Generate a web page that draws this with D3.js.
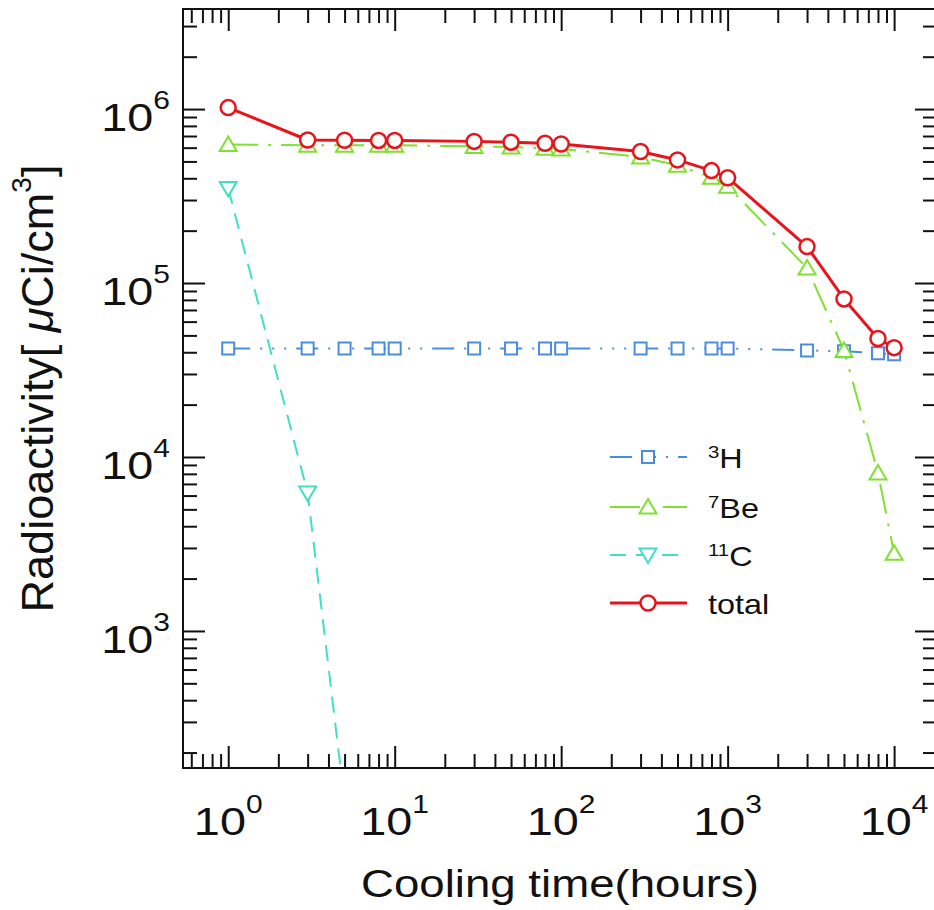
<!DOCTYPE html>
<html><head><meta charset="utf-8">
<script src="https://cdn.jsdelivr.net/npm/d3@7"></script>
<style>
body{margin:0;background:#fff}
svg{display:block}
text{font-family:"Liberation Sans",Arial,Helvetica,sans-serif;fill:#111}
</style>
</head><body>
<svg id="chart" width="934" height="910"></svg>
<script>
// ---- data ----
const hours = [1,3,5,8,10,30,50,80,100,300,500,800,1000,3000,5000,8000,10000];
const h3Values = [4.2e4,4.2e4,4.2e4,4.2e4,4.2e4,4.2e4,4.2e4,4.2e4,4.2e4,4.2e4,4.2e4,4.2e4,4.2e4,4.1e4,4.05e4,3.95e4,3.9e4];
const be7Values = [6.25e5,6.2e5,6.2e5,6.2e5,6.2e5,6.1e5,6.05e5,5.95e5,5.9e5,5.3e5,4.75e5,4.05e5,3.6e5,1.22e5,4.1e4,8.1e3,2.8e3];
const c11Hours = [1,3,5,8,10];
const c11Values = [3.5e5,6.2e3,1.05e2,0.24,0.004];
const totalValues = [1.02e6,6.64e5,6.62e5,6.6e5,6.6e5,6.52e5,6.45e5,6.36e5,6.3e5,5.7e5,5.1e5,4.43e5,4.03e5,1.62e5,8.1e4,4.8e4,4.25e4];

const xMajorTicks = [1,10,100,1000,10000];
const xTickExponents = ["0","1","2","3","4"];
const yMajorTicks = [1e3,1e4,1e5,1e6];
const yTickExponents = ["3","4","5","6"];

const legendSup = ["3","7","11",""];
const legendBase = ["H","Be","C","total"];

const xTitle = "Cooling time(hours)";

// ---- layout ----
const svg = d3.select("#chart");
const L = 183, R = 937, T = 9, B = 768;
const x = d3.scaleLog().domain([0.535, 18100]).range([L, R]);
const y = d3.scaleLog().domain([163, 3.76e6]).range([B, T]);

svg.append("rect").attr("width",934).attr("height",910).attr("fill","#fff");

function minorTicks(scale){
  const [a,b] = scale.domain(); const out=[];
  for(let e=Math.floor(Math.log10(a)); e<=Math.ceil(Math.log10(b)); e++){
    for(let m=2;m<=9;m++){ const v=m*Math.pow(10,e); if(v>=a && v<=b) out.push(v); }
  }
  return out;
}
const xMinor = minorTicks(x), yMinor = minorTicks(y);

function styleAxis(g){
  g.select(".domain").remove();
  g.selectAll(".tick line").attr("stroke","#111").attr("stroke-width",2);
}
const MAJ = 22, MIN = 14;
// bottom
svg.append("g").attr("transform",`translate(0,${B})`).call(d3.axisBottom(x).tickValues(xMajorTicks).tickSize(-MAJ).tickFormat("")).call(styleAxis);
svg.append("g").attr("transform",`translate(0,${B})`).call(d3.axisBottom(x).tickValues(xMinor).tickSize(-MIN).tickFormat("")).call(styleAxis);
// top
svg.append("g").attr("transform",`translate(0,${T})`).call(d3.axisTop(x).tickValues(xMajorTicks).tickSize(-MAJ).tickFormat("")).call(styleAxis);
svg.append("g").attr("transform",`translate(0,${T})`).call(d3.axisTop(x).tickValues(xMinor).tickSize(-MIN).tickFormat("")).call(styleAxis);
// left
svg.append("g").attr("transform",`translate(${L},0)`).call(d3.axisLeft(y).tickValues(yMajorTicks).tickSize(-MAJ).tickFormat("")).call(styleAxis);
svg.append("g").attr("transform",`translate(${L},0)`).call(d3.axisLeft(y).tickValues(yMinor).tickSize(-MIN).tickFormat("")).call(styleAxis);
// right
svg.append("g").attr("transform",`translate(${R},0)`).call(d3.axisRight(y).tickValues(yMajorTicks).tickSize(-MAJ).tickFormat("")).call(styleAxis);
svg.append("g").attr("transform",`translate(${R},0)`).call(d3.axisRight(y).tickValues(yMinor).tickSize(-MIN).tickFormat("")).call(styleAxis);

// tick labels
xMajorTicks.forEach((v,i)=>{
  const t = svg.append("text").attr("text-anchor","middle")
    .attr("transform",`translate(${x(v)},835) scale(1.2,1)`).attr("font-size",39);
  t.append("tspan").text("10");
  t.append("tspan").attr("font-size",25).attr("dy",-22).text(xTickExponents[i]);
});
yMajorTicks.forEach((v,i)=>{
  const t = svg.append("text").attr("text-anchor","end")
    .attr("transform",`translate(170,${y(v)+22}) scale(1.2,1)`).attr("font-size",39);
  t.append("tspan").text("10");
  t.append("tspan").attr("font-size",25).attr("dy",-22).text(yTickExponents[i]);
});

// axis titles
svg.append("text").attr("text-anchor","middle").attr("font-size",38)
  .attr("transform",`translate(${(L+R)/2},897) scale(1.2,1)`).text(xTitle);
const yt = svg.append("text").attr("text-anchor","middle").attr("font-size",45)
  .attr("transform",`translate(53,${(T+B)/2}) rotate(-90)`);
yt.append("tspan").text("Radioactivity[ ");
yt.append("tspan").attr("font-style","italic").text("μ");
yt.append("tspan").text("Ci/cm");
yt.append("tspan").attr("font-size",28).attr("dy",-22).text("3");
yt.append("tspan").attr("dy",22).text("]");

// ---- series ----
const clip = svg.append("clipPath").attr("id","plotclip");
clip.append("rect").attr("x",L).attr("y",T).attr("width",R-L).attr("height",B-T);
const plot = svg.append("g").attr("clip-path","url(#plotclip)");

function markerPath(kind){
  if(kind==="square") return "M-6,-6H6V6H-6Z";
  if(kind==="up") return "M0,-8L8.5,6.5L-8.5,6.5Z";
  if(kind==="down") return "M0,8L8.5,-6.5L-8.5,-6.5Z";
  return null;
}
const series = [
  {xs:hours, ys:h3Values, color:"#4a8de0", dash:"22,10,2,10,2,10,2,10", width:2, marker:"square"},
  {xs:hours, ys:be7Values, color:"#80e030", dash:"30,10,3,10", width:2, marker:"up"},
  {xs:c11Hours, ys:c11Values, color:"#3fe0c5", dash:"16,10", width:2, marker:"down"},
  {xs:hours, ys:totalValues, color:"#e8141c", dash:null, width:3, marker:"circle"}
];
const line = d3.line().x(d=>x(d[0])).y(d=>y(d[1]));
function drawMarker(g, kind, color, cx, cy){
  if(kind==="circle"){
    g.append("circle").attr("cx",cx).attr("cy",cy).attr("r",7.5)
      .attr("fill","#fff").attr("stroke",color).attr("stroke-width",2.5);
  } else {
    g.append("path").attr("d",markerPath(kind)).attr("transform",`translate(${cx},${cy})`)
      .attr("fill","#fff").attr("stroke",color).attr("stroke-width",2).attr("stroke-linejoin","miter");
  }
}
series.forEach(s=>{
  const pts = s.xs.map((h,i)=>[h,s.ys[i]]);
  plot.append("path").datum(pts).attr("d",line).attr("fill","none")
    .attr("stroke",s.color).attr("stroke-width",s.width)
    .attr("stroke-dasharray",s.dash).attr("stroke-linejoin","round");
  pts.forEach(p=>drawMarker(plot, s.marker, s.color, x(p[0]), y(p[1])));
});

// ---- legend ----
const rows = [457,507,555,603];
series.forEach((s,i)=>{
  const ry = rows[i];
  svg.append("line").attr("x1",610).attr("x2",687).attr("y1",ry).attr("y2",ry)
    .attr("stroke",s.color).attr("stroke-width",s.width).attr("stroke-dasharray",s.dash);
  drawMarker(svg, s.marker, s.color, 648, ry);
  const t = svg.append("text").attr("font-size",27)
    .attr("transform",`translate(708,${ry+11}) scale(1.2,1)`);
  if(legendSup[i]){
    t.append("tspan").attr("font-size",17).attr("dy",-10).text(legendSup[i]);
    t.append("tspan").attr("dy",10).text(legendBase[i]);
  } else {
    t.append("tspan").text(legendBase[i]);
  }
});

// frame
svg.append("rect").attr("x",L).attr("y",T).attr("width",R-L).attr("height",B-T)
  .attr("fill","none").attr("stroke","#111").attr("stroke-width",2);
</script>
</body></html>
